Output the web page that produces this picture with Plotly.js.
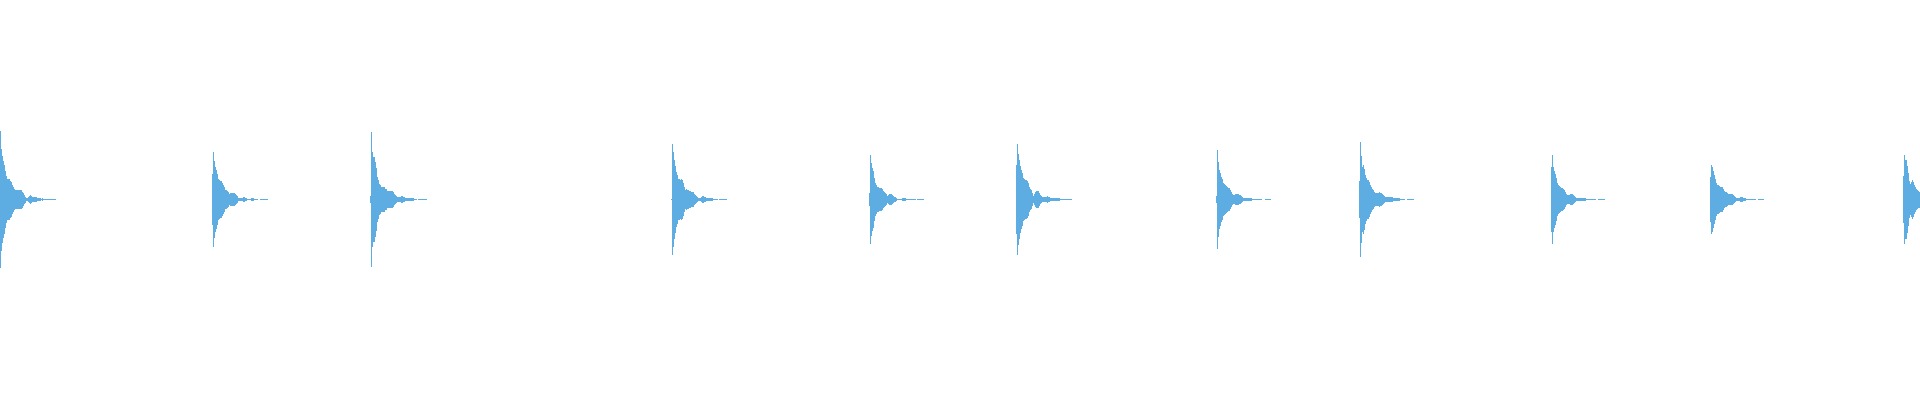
<!DOCTYPE html>
<html>
<head>
<meta charset="utf-8">
<script src="https://cdn.plot.ly/plotly-3.0.1.min.js"></script>
<style>html,body{margin:0;padding:0;background:#fff;}#chart{width:1920px;height:400px;}</style>
</head>
<body>
<div id="chart"></div>
<script>
// Onset (pixel column / sample block index) of each hit
const onsets = [0, 212, 370, 671, 869, 1016, 1216, 1359, 1551, 1710, 1903];

// Peak amplitude per block after each onset (symmetric waveform)
const hit1 = [68.8,51,43.8,38.8,34.2,28.2,23.2,20.8,20.5,20.5,18.8,17.2,14.8,12.2,10.8,9.8,9.8,9.8,9.8,9.8,9.8,9.5,8,6.5,4.8,3,1.5,1.5,2.5,3.8,4.5,3.2,2.5,2.5,2.5,2.5,2.5,1.5,1.5,1.5,1.5,0.5,1.5,0.5,0.5,0.5,0.5,0.5,0.5,0.5,0.5,0.5,0.5,0.5,0.5,0.5];
const hit2 = [25.5,47.5,38.8,32.2,29.5,25.5,20.8,19.8,18.8,18.8,16.5,14.2,12.2,9.8,9.2,8.2,7.2,5.8,6.5,6.5,6.5,6.5,6.5,5.5,4.5,3.2,1.8,1.8,1.8,1.8,1.8,2.8,2.8,1.8,1.8,0.5,0.5,0.5,0.5,1.5,1.5,1.5,0.5,0.5,0.5,0.5,0,0,0.5,0.5,0.5,0.5,0.5,0.5,0.5,0.5];
const hit3 = [3.5,67.5,47.5,42.5,42.5,37.5,31.5,22.5,19.2,15.8,14.2,12.5,12.5,12.5,12.5,10.8,10.8,8.8,8.8,8.8,8.8,8.8,8.8,7.5,5.8,4.8,3.2,2.5,2.5,2.5,2.5,3.5,3.5,2.5,2.5,1.5,1.5,1.5,1.5,1.5,1.5,1.5,1.5,1.5,0.5,0.5,0.5,0,0.5,0.5,0.5,0.3,0.3,0.3,0.5,0.5,0.5];
const hit4 = [0.8,55.5,47.5,39.5,33.2,27.5,24.2,20.8,20.8,19.2,20.8,19.8,16.5,12.2,9.5,10.5,9.5,9.5,8.5,8.5,7.5,7.5,7.5,5.8,4.5,3.2,2.5,1.5,1.5,1.5,2.5,3.5,3.5,2.5,2.5,1.5,1.5,1.5,1.5,1.5,1.5,1.5,0.5,0.5,0.5,0.8,0.8,0,0.5,0.5,0.5,0.5,0.5,0.5,0.5,0.5];
const hit5 = [6.5,44.5,36.5,31.5,28.5,21.5,16.5,14.2,12.8,12.8,11.8,11.8,11.2,10.2,8.8,7.5,6.5,5.2,3.8,4.5,5.5,5.5,5.2,4.2,3.2,2.5,2.5,1.5,0.3,0.3,0.3,0.5,0.5,1.5,1.5,1.5,1.5,0.5,0.5,0.5,0.5,0.5,0.5,0.5,0.5,0.5,0.5,0,0.5,0.5,0.5,0.5,0.5,0.5,0.5];
const hit6 = [34.8,55.5,45.5,39.5,33.8,29.8,26.5,21.5,20.5,19.5,19.5,18.2,16.2,12.2,10.5,9.5,6.8,3.8,5.5,7.5,8.8,8.8,8.2,6.2,4.8,3.8,2.5,2.5,2.5,2.5,2.5,3.5,2.5,2.5,1.5,1.5,1.5,1.5,1.5,1.5,1.5,1.5,1.5,1.5,0.5,0.5,0.5,0.5,0.5,0.5,0.5,0.5,0.5,0.5,0.5,0.5];
const hit7 = [3.5,49.5,37.5,29.5,26.5,22.5,20.2,16.5,15.5,14.5,13.5,12.5,11.2,11.2,9.8,7.5,5.5,4.5,4.5,5.5,5.5,5.5,5.5,4.5,4.5,3.5,2.5,1.5,1.5,1.5,1.5,1.5,1.5,1.5,1.5,1.5,0.5,0.5,0.5,0.5,0.5,0.5,0.5,0.5,0.5,0.5,0,0,0,0.5,0.5,0.5,0.5,0.5,0.5];
const hit8 = [18.8,57.5,43.5,32.5,34.5,30.5,24.5,21.5,19.2,19.2,17.5,14.5,12.5,10.5,9.2,7.5,6.8,6.8,6.8,6.8,7.5,6.5,6.5,5.5,4.2,3.5,2.5,2.2,2.2,2.2,2.8,2.8,2.8,2.8,1.5,1.5,1.2,1.2,1.2,1.8,1.8,0.8,0.8,0.8,0.8,0.8,0,0,0.5,0.5,0.5,0.5,0.5,0.5,0.5];
const hit9 = [32.5,44.5,32.5,28.5,25.5,21.5,16.5,14.5,13.5,12.5,11.5,11.5,10.5,9.5,7.5,5.5,4.5,4.5,4.5,5.5,5.5,5.5,4.5,3.8,2.5,1.5,1.5,1.5,1.5,1.5,1.5,1.5,1.5,1.5,1.5,0.5,0.5,0.5,0.5,0.5,0.5,0.5,0.5,0.5,0.5,0,0,0.5,0.5,0.5,0.5,0.5,0.5,0.5];
const hit10 = [22.5,34.5,32.5,28.5,24.5,20.5,16.5,14.5,14.5,13.5,12.5,12.5,12.5,10.5,8.5,7.5,7.5,6.5,5.5,5.5,5.5,5.5,5.5,4.5,3.5,2.5,1.5,1.5,1.5,1.5,2.5,2.5,2.5,1.5,1.5,1.5,0.5,0.5,0.5,0.5,0.5,0.5,0.5,0.5,0.5,0.5,0,0,0.5,0.5,0.5,0.5,0.5,0.5];
const hit11 = [23.5,44.5,39.5,39.5,33.5,26.5,18.5,15.5,17.5,19.5,17.5,14.5,12.5,10.5,9.5,8.5,8];

const hits = [hit1, hit2, hit3, hit4, hit5, hit6, hit7, hit8, hit9, hit10, hit11];
const totalBlocks = 1920;
const waveColor = '#5DADE2';

const xs = [], bases = [], heights = [];
hits.forEach((env, h) => {
  env.forEach((a, i) => {
    if (a <= 0) return;
    xs.push(onsets[h] + i + 0.5);
    bases.push(-a);
    heights.push(2 * a);
  });
});

const trace = {
  type: 'bar',
  x: xs,
  y: heights,
  base: bases,
  width: 1,
  marker: {color: waveColor, line: {width: 0}},
  hoverinfo: 'skip'
};

const layout = {
  width: 1920,
  height: 400,
  margin: {l: 0, r: 0, t: 0, b: 0, pad: 0},
  paper_bgcolor: '#ffffff',
  plot_bgcolor: '#ffffff',
  showlegend: false,
  bargap: 0,
  xaxis: {range: [0, totalBlocks], visible: false, fixedrange: true},
  yaxis: {range: [-200.5, 199.5], visible: false, fixedrange: true}
};

Plotly.newPlot('chart', [trace], layout, {displayModeBar: false, staticPlot: true});
</script>
</body>
</html>
